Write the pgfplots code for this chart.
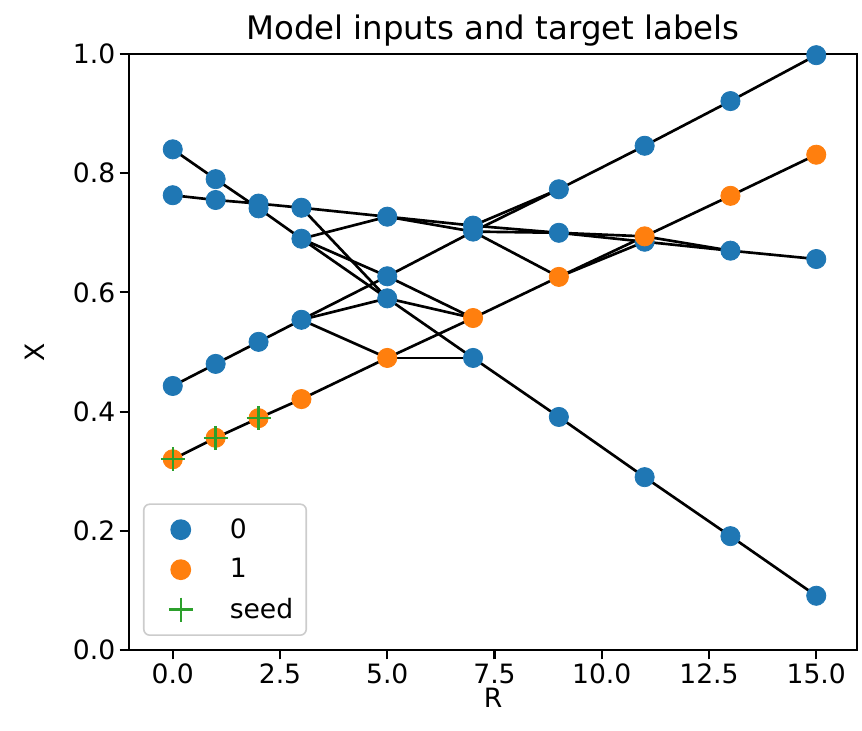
\documentclass[border=0pt]{standalone}
\usepackage{fontspec}
\setmainfont{DejaVu Sans}
\usepackage{pgfplots}
\pgfplotsset{compat=1.18}
\definecolor{C0}{HTML}{1F77B4}
\definecolor{C1}{HTML}{FF7F0E}
\definecolor{C2}{HTML}{2CA02C}
\newcommand{\tickfont}{\fontsize{13.3}{16}\selectfont}
\begin{document}
\begin{tikzpicture}
\begin{axis}[
  name=ax,
  scale only axis, width=364pt, height=298pt,
  xmin=-1.02, xmax=15.95, ymin=0, ymax=1,
  xtick={0,2.5,5,7.5,10,12.5,15},
  ytick={0,0.2,0.4,0.6,0.8,1},
  /pgf/number format/fixed,
  /pgf/number format/fixed zerofill,
  /pgf/number format/precision=1,
  /pgf/number format/assume math mode=true,
  tick label style={font=\tickfont},
  tick align=outside, tick pos=left, major tick length=4.65pt,
  every tick/.style={black, line width=1.06pt},
  axis line style={line width=1.06pt, black},
  xticklabel style={inner sep=0pt, anchor=north, yshift=-2pt},
  yticklabel style={inner sep=0pt, anchor=east, xshift=-2pt},
  xlabel={R}, ylabel={X},
  every axis x label/.style={at={(axis description cs:0.5,0)}, anchor=center, yshift=-24pt, inner sep=0pt, font=\tickfont},
  every axis y label/.style={at={(axis description cs:-0.1291,0.5)}, rotate=90, anchor=center, inner sep=0pt, font=\tickfont},
  title={Model inputs and target labels},
  every axis title/.style={at={(axis description cs:0.5,1)}, anchor=base, yshift=7pt, inner sep=0pt, font=\fontsize{16.2}{19}\selectfont},
  legend style={
    at={(axis description cs:0.0192,0.0235)}, anchor=south west,
    draw=black!20, line width=0.8pt, rounded corners=3pt,
    fill=white,
    inner xsep=6.5pt, inner ysep=2.75pt,
    font=\tickfont,
    nodes={inner sep=0pt, minimum height=20pt},
    column sep=0pt,
  },
  legend cell align=left,
  legend image code/.code={\path[draw=none, fill=none] (0pt,-2pt) rectangle (36.5pt,2pt); \draw[#1, rounded corners=0pt] plot coordinates {(12pt,0pt)};},
]
% class 0 points
\addplot[only marks, mark=*, mark size=4.8pt, color=C0, mark options={draw=none, fill=C0}] coordinates {
(0,0.840)(1,0.790)(2,0.741)(3,0.690)(5,0.590)(7,0.490)(9,0.391)(11,0.290)(13,0.191)(15,0.091)
(0,0.763)(1,0.755)(2,0.749)(3,0.742)(5,0.727)(7,0.712)(9,0.700)(11,0.685)(13,0.670)(15,0.656)
(0,0.443)(1,0.480)(2,0.517)(3,0.554)(5,0.627)(7,0.702)(9,0.773)(11,0.846)(13,0.921)(15,0.998)
};
\addlegendentry{0}
% class 1 points
\addplot[only marks, mark=*, mark size=4.8pt, color=C1, mark options={draw=none, fill=C1}] coordinates {
(0,0.320)(1,0.356)(2,0.389)(3,0.421)(5,0.490)(7,0.557)(9,0.626)(11,0.694)(13,0.762)(15,0.831)
};
\addlegendentry{1}
% seeds
\addplot[only marks, mark=+, mark size=6pt, color=C2, mark options={line width=1.2pt}] coordinates {
(0,0.320)(1,0.356)(2,0.389)
};
\addlegendentry{seed}
% links
\pgfplotsset{every axis plot/.append style={forget plot}}
\addplot[black, line width=1.33pt] coordinates {(0,0.840)(1,0.790)(2,0.741)(3,0.690)(5,0.590)(7,0.490)(9,0.391)(11,0.290)(13,0.191)(15,0.091)};
\addplot[black, line width=1.33pt] coordinates {(0,0.763)(1,0.755)(2,0.749)(3,0.742)(5,0.727)(7,0.712)(9,0.700)(11,0.685)(13,0.670)(15,0.656)};
\addplot[black, line width=1.33pt] coordinates {(0,0.443)(1,0.480)(2,0.517)(3,0.554)(5,0.627)(7,0.702)(9,0.773)(11,0.846)(13,0.921)(15,0.998)};
\addplot[black, line width=1.33pt] coordinates {(0,0.320)(1,0.356)(2,0.389)(3,0.421)(5,0.490)(7,0.557)(9,0.626)(11,0.694)(13,0.762)(15,0.831)};
\addplot[black, line width=1.33pt] coordinates {(3,0.690)(5,0.727)};
\addplot[black, line width=1.33pt] coordinates {(3,0.690)(5,0.627)};
\addplot[black, line width=1.33pt] coordinates {(3,0.554)(5,0.590)};
\addplot[black, line width=1.33pt] coordinates {(3,0.554)(5,0.490)};
\addplot[black, line width=1.33pt] coordinates {(3,0.742)(5,0.590)};
\addplot[black, line width=1.33pt] coordinates {(5,0.627)(7,0.557)};
\addplot[black, line width=1.33pt] coordinates {(5,0.590)(7,0.557)};
\addplot[black, line width=1.33pt] coordinates {(5,0.490)(7,0.490)};
\addplot[black, line width=1.33pt] coordinates {(5,0.727)(7,0.702)};
\addplot[black, line width=1.33pt] coordinates {(7,0.712)(9,0.773)};
\addplot[black, line width=1.33pt] coordinates {(7,0.702)(9,0.700)};
\addplot[black, line width=1.33pt] coordinates {(7,0.702)(9,0.626)};
\addplot[black, line width=1.33pt] coordinates {(9,0.700)(11,0.694)};
\addplot[black, line width=1.33pt] coordinates {(9,0.626)(11,0.685)};
\addplot[black, line width=1.33pt] coordinates {(11,0.694)(13,0.670)};
\end{axis}
\pgfresetboundingbox
\path[use as bounding box] ([xshift=-64.5pt,yshift=-40.5pt]ax.south west) rectangle ([xshift=2.5pt,yshift=27pt]ax.north east);
\end{tikzpicture}
\end{document}
